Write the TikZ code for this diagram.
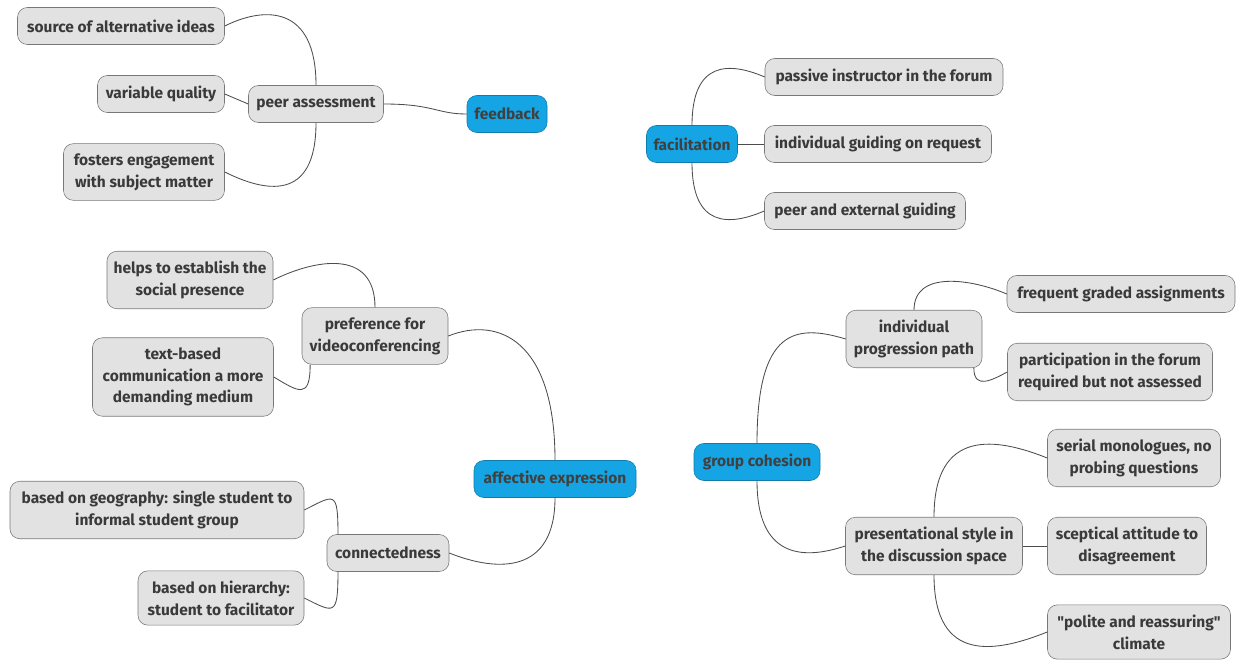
\documentclass[tikz,border=0pt]{standalone}
\usepackage{fontspec}
\setmainfont{Fira Sans}[Ligatures=TeXOff]
\usetikzlibrary{positioning}
\definecolor{boxgray}{RGB}{226,226,226}
\definecolor{edgegray}{RGB}{120,120,120}
\definecolor{rootblue}{RGB}{22,165,228}
\definecolor{txtgray}{RGB}{58,58,58}
\newcommand\pxu{0.025cm}

\begin{document}
\begin{tikzpicture}[x=\pxu, y=-\pxu,
    % styles for the boxes and the connectors
        leaf/.style={draw=edgegray, fill=boxgray, rounded corners=7pt, align=center,
          inner xsep=3pt, inner ysep=7pt, minimum height=37*\pxu,
          font=\fontsize{11}{15.5}\selectfont\bfseries, text=txtgray},
        root/.style={leaf, fill=rootblue, draw=rootblue!75!black, text=black!75},
        link/.style={draw=black!70, line width=0.6pt}
    ]
    \useasboundingbox (0,0) rectangle (1240,663);

        % feedback
        \node[root, minimum width=80*\pxu] (feedback) at (507,114) {feedback};
        \node[leaf, minimum width=135*\pxu] (peer) at (316,104) {peer assessment};
        \node[leaf, minimum width=207*\pxu] (source) at (121,26) {source of alternative ideas};
        \node[leaf, minimum width=127*\pxu] (quality) at (161,94) {variable quality};
        \node[leaf, minimum width=161*\pxu] (fosters) at (144,172) {fosters engagement\\with subject matter};

        % facilitation
        \node[root, minimum width=91*\pxu] (facil) at (692,144) {facilitation};
        \node[leaf, minimum width=238*\pxu] (passive) at (884,77) {passive instructor in the forum};
        \node[leaf, minimum width=227*\pxu] (guiding) at (878,144) {individual guiding on request};
        \node[leaf, minimum width=201*\pxu] (external) at (865,211) {peer and external guiding};

        % affective expression
        \node[root, minimum width=162*\pxu] (affect) at (555,479) {affective expression};
        \node[leaf, minimum width=146*\pxu] (video) at (375,336) {preference for\\videoconferencing};
        \node[leaf, minimum width=166*\pxu] (social) at (190,280) {helps to establish the\\social presence};
        \node[leaf, minimum width=181*\pxu] (textbased) at (183,377) {text-based\\communication a more\\demanding medium};
        \node[leaf, minimum width=122*\pxu] (connect) at (388,553) {connectedness};
        \node[leaf, minimum width=294*\pxu] (geography) at (157,510) {based on geography: single student to\\informal student group};
        \node[leaf, minimum width=166*\pxu] (hierarchy) at (221,598) {based on hierarchy:\\student to facilitator};

        % group cohesion
        \node[root, minimum width=126*\pxu] (cohesion) at (757,462) {group cohesion};
        \node[leaf, minimum width=136*\pxu] (progress) at (914,339) {individual\\progression path};
        \node[leaf, minimum width=228*\pxu] (graded) at (1121,294) {frequent graded assignments};
        \node[leaf, minimum width=205*\pxu] (forum) at (1110,372) {participation in the forum\\required but not assessed};
        \node[leaf, minimum width=177*\pxu] (present) at (934,546) {presentational style in\\the discussion space};
        \node[leaf, minimum width=173*\pxu] (serial) at (1134,458) {serial monologues, no\\probing questions};
        \node[leaf, minimum width=159*\pxu] (sceptic) at (1127,546) {sceptical attitude to\\disagreement};
        \node[leaf, minimum width=183*\pxu] (polite) at (1139,632) {"polite and reassuring"\\climate};

        % connectors
        \draw[link] (peer.east) .. controls +(50,0) and +(-30,0) .. (feedback.west);
        \draw[link] (peer.north) .. controls +(0,-80) and +(40,-20) .. (source.east);
        \draw[link] (peer.west) -- (quality.east);
        \draw[link] (peer.south) .. controls +(0,80) and +(40,20) .. (fosters.east);

        \draw[link] (facil.north) .. controls +(0,-65) and +(-35,-15) .. (passive.west);
        \draw[link] (facil.east) -- (guiding.west);
        \draw[link] (facil.south) .. controls +(0,65) and +(-35,15) .. (external.west);

        \draw[link] (affect.north) .. controls +(0,-120) and +(50,-20) .. (video.east);
        \draw[link] (affect.south) .. controls +(0,75) and +(50,20) .. (connect.east);
        \draw[link] (video.north) .. controls +(0,-60) and +(40,-20) .. (social.east);
        \draw[link] ([xshift=6pt]video.south west) .. controls +(0,35) and +(25,15) .. (textbased.east);
        \draw[link] ([xshift=8pt]connect.north west) .. controls +(0,-45) and +(30,-15) .. (geography.east);
        \draw[link] ([xshift=8pt]connect.south west) .. controls +(0,45) and +(30,15) .. (hierarchy.east);

        \draw[link] (cohesion.north) .. controls +(0,-115) and +(-50,-15) .. (progress.west);
        \draw[link] (cohesion.south) .. controls +(0,75) and +(-45,15) .. (present.west);
        \draw[link] (progress.north) .. controls +(0,-40) and +(-35,-15) .. (graded.west);
        \draw[link] ([xshift=-6pt]progress.south east) .. controls +(0,22) and +(-15,8) .. (forum.west);
        \draw[link] (present.north) .. controls +(0,-90) and +(-50,-20) .. (serial.west);
        \draw[link] (present.east) -- (sceptic.west);
        \draw[link] (present.south) .. controls +(0,90) and +(-50,20) .. (polite.west);
    \end{tikzpicture}
\end{document}
